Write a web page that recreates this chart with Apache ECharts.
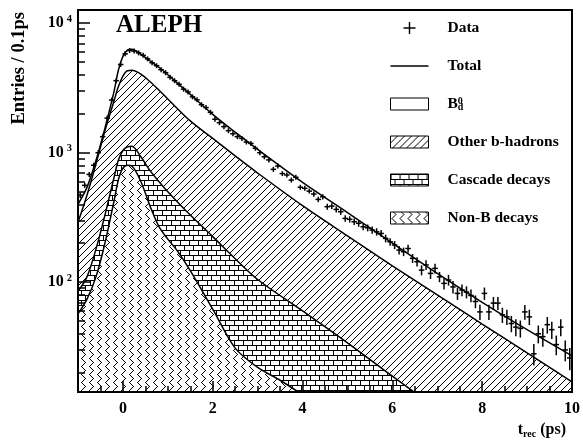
<!DOCTYPE html>
<html><head><meta charset="utf-8">
<script src="https://cdn.jsdelivr.net/npm/echarts@6/dist/echarts.min.js"></script>
<style>html,body{margin:0;padding:0;background:#fff}#c{width:583px;height:440px}</style>
</head><body><div id="c"></div>
<script>
// ---- data ----
const binT = [-0.95,-0.85,-0.75,-0.65,-0.55,-0.45,-0.35,-0.25,-0.15,-0.05,
  0.05,0.15,0.25,0.35,0.45,0.55,0.65,0.75,0.85,0.95,
  1.05,1.15,1.25,1.35,1.45,1.55,1.65,1.75,1.85,1.95,
  2.05,2.15,2.25,2.35,2.45,2.55,2.65,2.75,2.85,2.95,
  3.05,3.15,3.25,3.35,3.45,3.55,3.65,3.75,3.85,3.95,
  4.05,4.15,4.25,4.35,4.45,4.55,4.65,4.75,4.85,4.95,
  5.05,5.15,5.25,5.35,5.45,5.55,5.65,5.75,5.85,5.95,
  6.05,6.15,6.25,6.35,6.45,6.55,6.65,6.75,6.85,6.95,
  7.05,7.15,7.25,7.35,7.45,7.55,7.65,7.75,7.85,7.95,
  8.05,8.15,8.25,8.35,8.45,8.55,8.65,8.75,8.85,8.95,
  9.05,9.15,9.25,9.35,9.45,9.55,9.65,9.75,9.85,9.95];
const dataVals = [470,560,680,800,1000,1330,1850,2550,3600,4800,
  5800,6150,6100,5900,5650,5300,4950,4700,4380,4150,
  3820,3600,3380,3100,2950,2700,2560,2350,2230,2050,
  1812,1706,1590,1480,1400,1330,1290,1210,1180,1082,
  1000,930,880,744,789,690,673,615,646,541,
  531,505,480,436,457,383,387,365,350,311,
  306,293,285,268,263,253,245,238,218,205,
  194,177,172,182,153,144,124,136,117,128,
  110,98,104,92,82,87,84,79,71,59,
  82,59,69,69,56,54,48,45,44,59,
  54,28,40,38,47,43,33,45,30,26];
const dataErr = [22,24,26,28,32,36,43,50,60,69,
  76,78,78,77,75,73,70,69,66,64,
  62,60,58,56,54,52,51,48,47,45,
  43,41,40,38,37,36,36,35,34,33,
  32,30,30,27,28,26,26,25,25,23,
  23,22,22,21,21,20,20,19,19,18,
  17,17,17,16,16,16,16,15,15,14,
  14,13,13,13,12,12,11,12,11,11,
  10,10,10,10,9,9,9,9,8,8,
  9,8,8,8,7.5,7.3,6.9,6.7,6.6,7.7,
  7.3,5.3,6.3,6.2,6.9,6.6,5.7,6.7,5.5,5.1];

const curveT = [-1,-0.8,-0.6,-0.4,-0.2,-0.1,0,0.1,0.2,0.4,0.6,0.8,1.0,1.5,2,2.5,3,4,5,6,7,8,9,10];
const totalVals = [400,540,870,1550,2950,4350,5550,6200,6300,5750,5130,4570,4000,2820,1980,1440,1060,590,345,200,117,70,43,27];
const otherVals = [290,470,820,1480,2500,3240,3900,4300,4330,4050,3550,3050,2600,1760,1290,944,697,390,228,134,80,47.5,28.5,17];
const cascT = [-1,-0.8,-0.6,-0.4,-0.2,-0.1,0,0.1,0.2,0.4,0.6,0.8,1.0,1.5,2,2.5,3,4,5,6,7];
const cascVals = [85,110,180,330,640,880,1040,1110,1120,930,730,600,500,330,225,152,105,60,34,18.8,10.5];
const nonBT = [-1,-0.8,-0.6,-0.4,-0.2,-0.1,0,0.1,0.2,0.4,0.6,0.8,1.0,1.2,1.5,2,2.5,3,3.5,4];
const nonBVals = [57,74,110,200,420,620,760,800,790,600,390,270,215,177,123,62,31,22,17.5,13.5];

const xMajorTicks = [0,2,4,6,8,10];
const xMinorTicks = [-0.5,0.5,1,1.5,2.5,3,3.5,4.5,5,5.5,6.5,7,7.5,8.5,9,9.5];
const yMajorTicks = [100,1000,10000];
const yMajorExp = ['2','3','4'];
const yMinorTicks = [20,30,40,50,60,70,80,90,200,300,400,500,600,700,800,900,2000,3000,4000,5000,6000,7000,8000,9000];

// ---- fill patterns (pixel tiles) ----
function tile(w,h,draw){
  const c=document.createElement('canvas'); c.width=w; c.height=h;
  const g=c.getContext('2d'); g.fillStyle='#fff'; g.fillRect(0,0,w,h);
  g.fillStyle='#000'; draw(g); return c;
}
const hatch = tile(7,7,g=>{for(let i=0;i<7;i++) g.fillRect(i,6-i,1,1);});
const brick = tile(18,10,g=>{
  g.fillRect(0,0,18,1); g.fillRect(0,5,18,1);
  g.fillRect(0,0,1,5); g.fillRect(9,0,1,5);
  g.fillRect(4,5,1,5); g.fillRect(13,5,1,5);
});
const waveOffsets=[0,1,2,1,0,-1,-2,-1];
const wavy = tile(8,8,g=>{waveOffsets.forEach((o,y)=>g.fillRect(3+o,y,1,1));});
const pHatch={image:hatch,repeat:'repeat'}, pBrick={image:brick,repeat:'repeat'}, pWavy={image:wavy,repeat:'repeat'};

const FONT='Liberation Serif';
const pairs=(xs,ys)=>xs.map((x,i)=>[x,ys[i]]);
const curveLine={color:'#000',width:1.5};
const SM=0.3;

const chart=echarts.init(document.getElementById('c'),null,{renderer:'canvas',width:583,height:440});
chart.setOption({
  animation:false,
  backgroundColor:'#fff',
  title:{text:'ALEPH',left:116,top:13,padding:0,textStyle:{fontFamily:FONT,fontWeight:'bold',fontSize:25,color:'#000'}},
  grid:{left:78,right:11,top:10,bottom:48,show:true,borderColor:'#000',borderWidth:2,z:10},
  legend:{
    orient:'vertical',left:390,top:20,padding:0,itemWidth:38,itemHeight:12,itemGap:22,selectedMode:false,
    textStyle:{fontFamily:FONT,fontWeight:'bold',fontSize:15.5,color:'#000',lineHeight:16,padding:[0,0,0,14],
      rich:{b:{fontFamily:FONT,fontWeight:'bold',fontSize:15.5,color:'#000',lineHeight:16},
            sp:{fontFamily:FONT,fontWeight:'bold',fontSize:10,color:'#000',lineHeight:8,verticalAlign:'top',width:0},
            sd:{fontFamily:FONT,fontWeight:'bold',fontSize:10,color:'#000',lineHeight:8,verticalAlign:'bottom'}}},
    formatter:n=>n==='B_d^0'?'{b|B}{sp|0}{sd|d}':n,
    data:[
      {name:'Data',icon:'path://M0,4.4h10v1.2h-10z M4.4,0h1.2v10h-1.2z',itemStyle:{color:'#000'}},
      {name:'Total',icon:'path://M0,0h38v1.4h-38z',itemStyle:{color:'#000'}},
      {name:'B_d^0',icon:'rect',itemStyle:{color:'#fff',borderColor:'#000',borderWidth:1}},
      {name:'Other b-hadrons',icon:'rect',itemStyle:{color:pHatch,borderColor:'#000',borderWidth:1}},
      {name:'Cascade decays',icon:'rect',itemStyle:{color:pBrick,borderColor:'#000',borderWidth:1}},
      {name:'Non-B decays',icon:'rect',itemStyle:{color:pWavy,borderColor:'#000',borderWidth:1}}
    ]
  },
  xAxis:[
    {type:'value',min:-1,max:10,position:'bottom',z:10,
     axisLine:{show:true,onZero:false,lineStyle:{color:'#000',width:2}},
     axisTick:{show:true,inside:true,length:11,customValues:xMajorTicks,lineStyle:{color:'#000',width:1.5}},
     axisLabel:{customValues:xMajorTicks,margin:9,fontFamily:FONT,fontSize:16,fontWeight:'bold',color:'#000'},
     splitLine:{show:false},
     name:'{t|t}{s|rec}{t| (ps)}',nameLocation:'end',nameGap:-6,
     nameTextStyle:{align:'right',verticalAlign:'top',padding:[29,0,0,0],
       rich:{t:{fontFamily:FONT,fontSize:16,fontWeight:'bold',color:'#000',lineHeight:18},
             s:{fontFamily:FONT,fontSize:10,fontWeight:'bold',color:'#000',lineHeight:10,verticalAlign:'bottom'}}}},
    {type:'value',min:-1,max:10,position:'bottom',z:10,
     axisLine:{show:false,onZero:false},
     axisTick:{show:true,inside:true,length:6,customValues:xMinorTicks,lineStyle:{color:'#000',width:1.5}},
     axisLabel:{show:false},splitLine:{show:false}}
  ],
  yAxis:[
    {type:'log',logBase:10,min:14.2,max:12650,position:'left',z:10,
     axisLine:{show:true,onZero:false,lineStyle:{color:'#000',width:2}},
     axisTick:{show:true,inside:true,length:12,customValues:yMajorTicks,lineStyle:{color:'#000',width:1.5}},
     axisLabel:{customValues:yMajorTicks,margin:6,
       formatter:v=>'{b|10}{e|'+yMajorExp[yMajorTicks.indexOf(v)]+'}',
       rich:{b:{fontFamily:FONT,fontSize:16,fontWeight:'bold',color:'#000',lineHeight:19},
             e:{fontFamily:FONT,fontSize:10.5,fontWeight:'bold',color:'#000',lineHeight:10,verticalAlign:'top',padding:[0,0,0,3]}}},
     splitLine:{show:false},
     name:'Entries / 0.1ps',nameLocation:'end',nameRotate:90,nameGap:-2,
     nameTextStyle:{fontFamily:FONT,fontSize:18.5,fontWeight:'bold',color:'#000',align:'right',verticalAlign:'bottom',padding:[0,0,49,0]}},
    {type:'log',logBase:10,min:14.2,max:12650,position:'left',z:10,
     axisLine:{show:false,onZero:false},
     axisTick:{show:true,inside:true,length:7,customValues:yMinorTicks,lineStyle:{color:'#000',width:1.5}},
     axisLabel:{show:false},splitLine:{show:false}}
  ],
  series:[
    {name:'B_d^0',type:'line',data:pairs(curveT,totalVals),smooth:SM,showSymbol:false,symbol:'none',
     lineStyle:{width:0,color:'#000'},itemStyle:{color:'#fff'},areaStyle:{color:'#fff',opacity:1,origin:'start'},z:2},
    {name:'Other b-hadrons',type:'line',data:pairs(curveT,otherVals),smooth:SM,symbol:'none',
     lineStyle:curveLine,itemStyle:{color:'#000'},areaStyle:{color:pHatch,opacity:1,origin:'start'},z:3},
    {name:'Cascade decays',type:'line',data:pairs(cascT,cascVals),smooth:SM,symbol:'none',
     lineStyle:curveLine,itemStyle:{color:'#000'},areaStyle:{color:pBrick,opacity:1,origin:'start'},z:4},
    {name:'Non-B decays',type:'line',data:pairs(nonBT,nonBVals),smooth:SM,symbol:'none',
     lineStyle:curveLine,itemStyle:{color:'#000'},areaStyle:{color:pWavy,opacity:1,origin:'start'},z:5},
    {name:'Total',type:'line',data:pairs(curveT,totalVals),smooth:SM,symbol:'none',
     lineStyle:curveLine,itemStyle:{color:'#000'},z:6},
    {name:'Data',type:'custom',z:7,clip:true,
     data:binT.map((t,i)=>[t,dataVals[i],dataErr[i]]),
     encode:{x:0,y:1},
     renderItem:(params,api)=>{
       const t=api.value(0),v=api.value(1),e=api.value(2);
       const p=api.coord([t,v]),pl=api.coord([t-0.05,v]),pr=api.coord([t+0.05,v]);
       const pt=api.coord([t,v+e]),pb=api.coord([t,Math.max(v-e,1e-3)]);
       const st={stroke:'#000',lineWidth:1.5};
       return {type:'group',children:[
         {type:'line',shape:{x1:pl[0]-0.5,y1:p[1],x2:pr[0]+0.5,y2:p[1]},style:st},
         {type:'line',shape:{x1:p[0],y1:Math.min(pt[1],p[1]-2.5),x2:p[0],y2:Math.max(pb[1],p[1]+2.5)},style:st}
       ]};
     }}
  ]
});
</script></body></html>
